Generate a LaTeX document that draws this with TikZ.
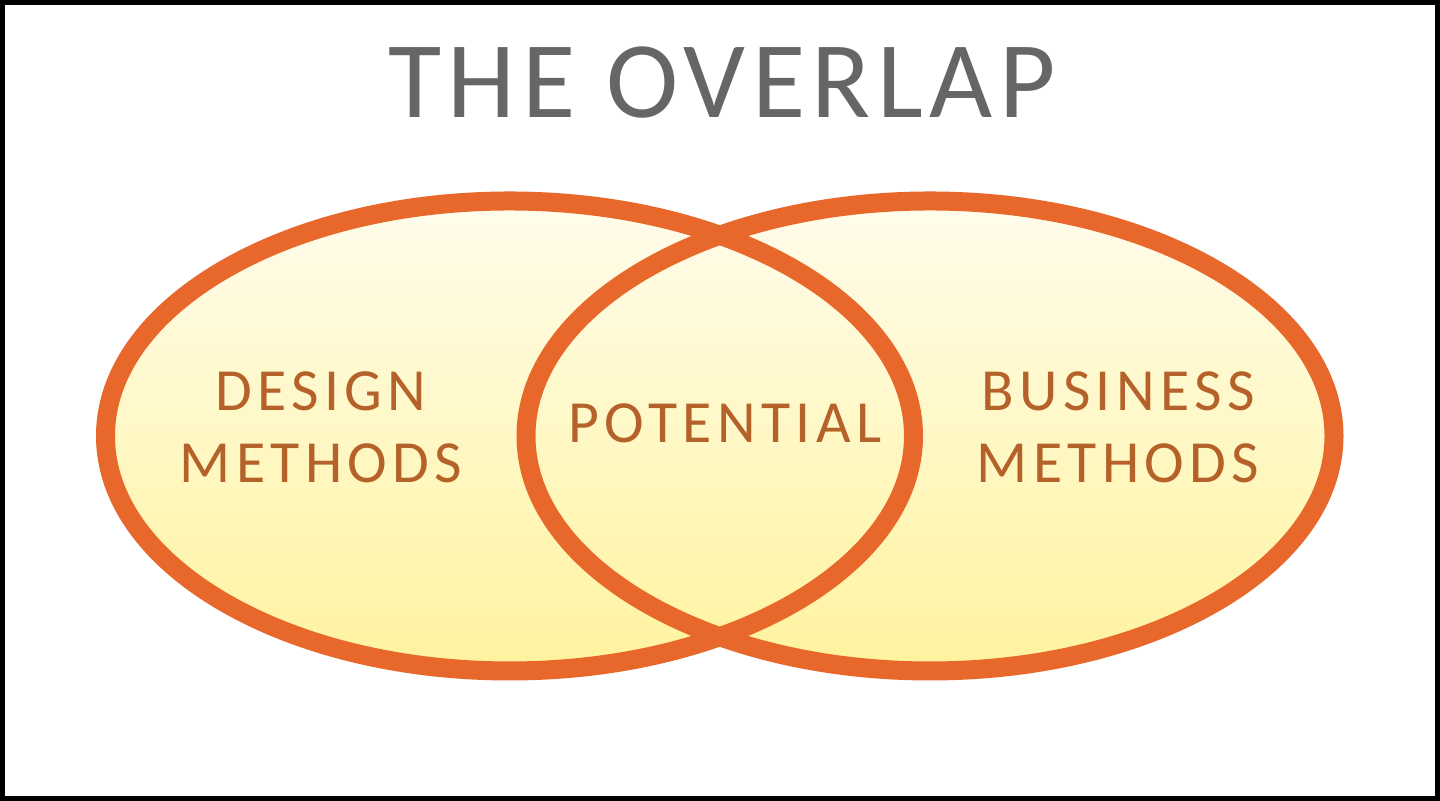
\documentclass[tikz,border=0pt]{standalone}
\usepackage{fontspec}
\setmainfont{Carlito}
\newfontfamily\labelfont[LetterSpace=9]{Carlito}
\newfontfamily\titlefont[LetterSpace=6]{Carlito}
\usetikzlibrary{shapes}
\usetikzlibrary{positioning}

\definecolor{ringorange}{HTML}{E8672A}
\definecolor{filltop}{HTML}{FFFCEC}
\definecolor{fillbottom}{HTML}{FFF39E}
\definecolor{labelbrown}{HTML}{B4622A}
\definecolor{titlegray}{HTML}{666666}

\tikzset{
  venn/.style={ellipse, minimum width=8.08cm, minimum height=4.7cm, inner sep=0pt},
  vennfill/.style={venn, top color=filltop, bottom color=fillbottom},
  vennring/.style={venn, draw=ringorange, line width=0.19cm},
  vennlabel/.style={text=labelbrown, align=center, font=\labelfont\fontsize{17}{20.5}\selectfont}
}

\begin{document}
\begin{tikzpicture}
  \useasboundingbox (0,0) rectangle (14.4,8.01);
  \fill[white] (0,0) rectangle (14.4,8.01);
  \draw[black, line width=0.05cm] (0.025,0.025) rectangle (14.375,7.985);

  % title
  \node[anchor=base, text=titlegray, font=\titlefont\fontsize{31}{36}\selectfont] (title) at (7.22,6.83) {THE OVERLAP};

  % fills first, then rings on top
  \node[vennfill] (designfill) at (5.095,3.65) {};
  \node[vennfill] (businessfill) at (9.30,3.65) {};
  \node[vennring] (design) at (5.095,3.65) {};
  \node[vennring] (business) at (9.30,3.65) {};

  \node[vennlabel] (designlabel) at (3.21,3.74) {DESIGN\\METHODS};
  \node[vennlabel] (potential) at (7.25,3.78) {POTENTIAL};
  \node[vennlabel] (businesslabel) at (11.18,3.74) {BUSINESS\\METHODS};
\end{tikzpicture}
\end{document}
